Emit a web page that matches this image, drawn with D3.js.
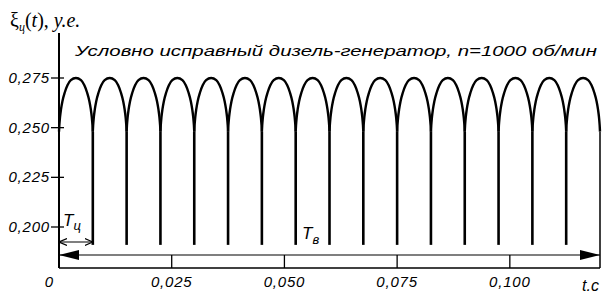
<!DOCTYPE html>
<html>
<head>
<meta charset="utf-8">
<script src="https://cdn.jsdelivr.net/npm/d3@7"></script>
<style>
  body { margin: 0; background: white; }
  text { font-family: "Liberation Sans", Arial, sans-serif; font-style: italic; fill: black; }
</style>
</head>
<body>
<div id="container"></div>
<script>
/* CONSTANTS AND GLOBALS */
const width = 609,
  height = 294;

/* DATA */
const xTicks = [0.025, 0.05, 0.075, 0.1];
const xTickLabels = ["0,025", "0,050", "0,075", "0,100"];
const yTicks = [0.200, 0.225, 0.250, 0.275];
const yTickLabels = ["0,200", "0,225", "0,250", "0,275"];
// cycle start times, s (one cycle Tц = 0.0075 s)
const cycleStarts = [0, 0.0075, 0.015, 0.0225, 0.03, 0.0375, 0.045, 0.0525,
  0.06, 0.0675, 0.075, 0.0825, 0.09, 0.0975, 0.105, 0.1125];
const cycleLength = 0.0075;
// shape of one arc: [phase of cycle, value]
const arcProfile = [
  [0, 0.2480], [0.01, 0.2512], [0.03, 0.2553], [0.06, 0.2593], [0.10, 0.2632],
  [0.17, 0.2677], [0.25, 0.2713], [0.35, 0.2739], [0.5, 0.2750],
  [0.65, 0.2739], [0.75, 0.2713], [0.83, 0.2677], [0.90, 0.2632],
  [0.94, 0.2593], [0.97, 0.2553], [0.99, 0.2512], [1, 0.2480]
];
const cuspBottom = 0.191;
const tEnd = 0.12;

const svg = d3.select("#container")
  .append("svg")
  .attr("width", width)
  .attr("height", height)
  .style("background-color", "white");

/* SCALES */
const xScale = d3.scaleLinear()
  .domain([0, tEnd])
  .range([59, 600]);

const yScale = d3.scaleLinear()
  .domain([0.200, 0.275])
  .range([227, 78]);

const yBottom = 268, yTop = 33;

/* MARKERS */
const defs = svg.append("defs");
defs.append("marker")
  .attr("id", "fillArrow")
  .attr("viewBox", "0 0 20 10")
  .attr("refX", 20).attr("refY", 5)
  .attr("markerWidth", 20).attr("markerHeight", 10)
  .attr("markerUnits", "userSpaceOnUse")
  .attr("orient", "auto-start-reverse")
  .append("path")
  .attr("d", "M0,0L20,5L0,10Z")
  .attr("fill", "black");
defs.append("marker")
  .attr("id", "openArrow")
  .attr("viewBox", "0 0 8 8")
  .attr("refX", 8).attr("refY", 4)
  .attr("markerWidth", 8).attr("markerHeight", 8)
  .attr("markerUnits", "userSpaceOnUse")
  .attr("orient", "auto-start-reverse")
  .append("path")
  .attr("d", "M0,0.5L8,4L0,7.5")
  .attr("fill", "none")
  .attr("stroke", "black")
  .attr("stroke-width", 1.2);

/* CURVE */
const arcLine = d3.line()
  .x(d => d[0])
  .y(d => d[1])
  .curve(d3.curveMonotoneX);

svg.selectAll(".arc")
  .data(cycleStarts)
  .join("path")
  .attr("class", "arc")
  .attr("d", s => arcLine(arcProfile.map(p => [xScale(s + p[0] * cycleLength), yScale(p[1])])))
  .attr("fill", "none")
  .attr("stroke", "black")
  .attr("stroke-width", 2.4);

// cusps between cycles
svg.selectAll(".cusp")
  .data(cycleStarts.slice(1))
  .join("line")
  .attr("class", "cusp")
  .attr("x1", d => xScale(d)).attr("x2", d => xScale(d))
  .attr("y1", yScale(arcProfile[0][1]))
  .attr("y2", yScale(cuspBottom))
  .attr("stroke", "black")
  .attr("stroke-width", 2.6);

// right border
svg.append("line")
  .attr("x1", xScale(tEnd)).attr("x2", xScale(tEnd))
  .attr("y1", yScale(arcProfile[0][1])).attr("y2", yBottom)
  .attr("stroke", "black").attr("stroke-width", 1.5);

/* AXES */
svg.append("line")
  .attr("x1", xScale(0)).attr("x2", xScale(0))
  .attr("y1", yTop).attr("y2", yBottom)
  .attr("stroke", "black").attr("stroke-width", 2);

svg.append("line")
  .attr("x1", xScale(0)).attr("x2", xScale(tEnd))
  .attr("y1", yBottom).attr("y2", yBottom)
  .attr("stroke", "black").attr("stroke-width", 1.5);

svg.selectAll(".ytick")
  .data(yTicks)
  .join("line")
  .attr("x1", 51).attr("x2", 64)
  .attr("y1", d => yScale(d)).attr("y2", d => yScale(d))
  .attr("stroke", "black").attr("stroke-width", 1.3);

svg.selectAll(".ylab")
  .data(yTicks)
  .join("text")
  .attr("x", 50)
  .attr("y", d => yScale(d) + 5)
  .attr("text-anchor", "end")
  .style("font-size", "15px")
  .style("letter-spacing", "0.8px")
  .text((d, i) => yTickLabels[i]);

svg.selectAll(".xtick")
  .data(xTicks)
  .join("line")
  .attr("x1", d => xScale(d)).attr("x2", d => xScale(d))
  .attr("y1", 255).attr("y2", yBottom)
  .attr("stroke", "black").attr("stroke-width", 1.3);

svg.selectAll(".xlab")
  .data(xTicks)
  .join("text")
  .attr("x", d => xScale(d))
  .attr("y", 287)
  .attr("text-anchor", "middle")
  .style("font-size", "15px")
  .style("letter-spacing", "0.8px")
  .text((d, i) => xTickLabels[i]);

svg.append("text")
  .attr("x", 49).attr("y", 287)
  .attr("text-anchor", "middle")
  .style("font-size", "15px")
  .text("0");

svg.append("text")
  .attr("x", 582).attr("y", 291)
  .style("font-size", "16px")
  .text("t.c");

/* ARROWS */
svg.append("line")
  .attr("x1", xScale(0)).attr("x2", xScale(tEnd))
  .attr("y1", 255).attr("y2", 255)
  .attr("stroke", "black").attr("stroke-width", 1.2)
  .attr("marker-start", "url(#fillArrow)")
  .attr("marker-end", "url(#fillArrow)");

svg.append("line")
  .attr("x1", xScale(0)).attr("x2", xScale(cycleLength))
  .attr("y1", 242).attr("y2", 242)
  .attr("stroke", "black").attr("stroke-width", 1.2)
  .attr("marker-start", "url(#openArrow)")
  .attr("marker-end", "url(#openArrow)");

const tc = svg.append("text").attr("x", 63).attr("y", 226).style("font-size", "17px");
tc.append("tspan").text("T");
tc.append("tspan").attr("dy", 4).style("font-size", "13px").text("ц");

const tv = svg.append("text").attr("x", 302).attr("y", 239).style("font-size", "17px");
tv.append("tspan").text("T");
tv.append("tspan").attr("dy", 5).style("font-size", "13px").text("в");

/* LABELS */
svg.append("text")
  .attr("x", 75).attr("y", 56)
  .attr("textLength", 522)
  .attr("lengthAdjust", "spacingAndGlyphs")
  .style("font-size", "15.5px")
  .text("Условно исправный дизель-генератор, n=1000 об/мин");

const yl = svg.append("text")
  .attr("x", 10).attr("y", 27)
  .style("font-family", "'Liberation Serif', 'Times New Roman', serif")
  .style("font-style", "normal")
  .style("font-size", "20px");
yl.append("tspan").text("ξ");
yl.append("tspan").attr("dy", 4).style("font-size", "12px").style("font-style", "italic").text("ц");
yl.append("tspan").attr("dy", -4).text("(");
yl.append("tspan").style("font-style", "italic").text("t");
yl.append("tspan").text("), ");
yl.append("tspan").style("font-style", "italic").text("у.е.");
</script>
</body>
</html>
